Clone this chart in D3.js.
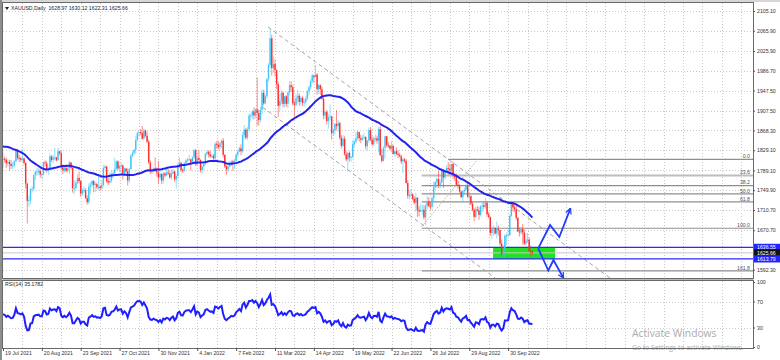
<!DOCTYPE html>
<html><head><meta charset="utf-8">
<script src="https://cdn.jsdelivr.net/npm/d3@7"></script>
<style>body{margin:0;background:#fff}svg{display:block;font-family:"Liberation Sans",Arial,sans-serif}</style>
</head><body><svg id="c" width="780" height="360"></svg>
<script>
// ---- DATA (XAUUSD daily) ----
const priorCloses=[1836,1815,1826,1843,1867,1869,1870,1877,1881,1881,1898,1897,1896,1903,1905,
1903,1908,1871,1891,1898,1893,1888,1899,1877,1866,1859,1811,1773,1764,1783,1779,1778,1776,1782,1779,1761,1770,
1777,1787,1792,1796,1803,1803,1808,1806,1808,1827,1829,1812];
const closes=[
1812,1810,1803,1806,1802, 1798,1799,1807,1828,1814, 1813,1810,1813,1804,1763, 1729,1730,1752,1753,1780,
1786,1787,1788,1781,1781, 1805,1803,1790,1792,1817, 1810,1814,1815,1809,1827, 1823,1795,1789,1794,1788,
1794,1805,1794,1754,1754, 1764,1774,1768,1743,1750, 1750,1734,1726,1757,1761, 1768,1760,1762,1756,1757,
1754,1760,1794,1797,1768, 1765,1769,1782,1784,1792, 1807,1793,1798,1799,1783, 1793,1787,1769,1792,1818,
1824,1830,1849,1863,1865, 1863,1852,1868,1858,1846, 1805,1790,1788,1793,1788, 1785,1775,1782,1769,1783,
1779,1785,1783,1775,1783, 1787,1771,1778,1799,1804, 1790,1789,1803,1809, 1811,1811,1805,1815,1829,
1801,1814,1810,1790,1797, 1802,1822,1826,1821,1817, 1818,1813,1842,1840,1835, 1843,1848,1820,1797,1791,
1797,1801,1807,1805,1808, 1820,1826,1833,1827,1859, 1870,1854,1871,1898,1898, 1906,1898,1910,1903,1889,
1909,1943,1922,1936,1970, 1998,2051,1992,2000,1988, 1960,1917,1927,1943,1921, 1936,1921,1944,1958,1954,
1922,1919,1933,1937,1925, 1933,1923,1925,1931,1946, 1954,1966,1977,1974, 1979,1950,1958,1950,1931,
1898,1905,1887,1894,1896, 1863,1868,1881,1877,1883, 1854,1838,1852,1821,1811, 1824,1815,1816,1841,1846,
1853,1865,1853,1850,1853, 1855,1837,1848,1869,1850, 1841,1852,1853,1848,1871, 1819,1808,1834,1857,1839,
1838,1832,1838,1822,1827, 1822,1820,1817,1807,1811, 1808,1764,1739,1740,1742, 1733,1725,1735,1711,1708,
1709,1711,1696,1719,1727, 1719,1717,1734,1756,1766, 1772,1760,1765,1791,1775, 1789,1794,1792,1789,1802,
1779,1776,1761,1758,1747, 1736,1748,1751,1758,1737, 1738,1723,1711,1697,1712, 1710,1701,1718,1720,1717,
1725,1702,1697,1665,1675, 1675,1664,1673,1671,1644, 1622,1629,1660,1660,1661, 1699,1726,1716,1712,1695,
1668,1666,1673,1666,1644, 1650,1652,1629,1628.97,1625.66];
const highs=[
1825,1816,1815,1812,1810, 1810,1806,1810,1832,1832, 1820,1816,1832,1815,1805, 1764,1739,1754,1758,1781,
1789,1795,1794,1793,1785, 1807,1809,1808,1796,1823, 1819,1820,1834,1816,1834, 1828,1827,1801,1800,1802,
1796,1808,1803,1795,1770, 1769,1781,1787,1770,1754, 1758,1754,1740,1764,1766, 1770,1770,1766,1765,1781,
1761,1770,1800,1800,1797, 1774,1785,1788,1790,1814, 1809,1809,1800,1804,1801, 1795,1794,1793,1794,1821,
1827,1832,1857,1866,1868, 1871,1877,1872,1870,1866, 1850,1809,1793,1795,1815, 1795,1808,1792,1784,1787,
1786,1793,1792,1789,1791, 1792,1789,1781,1804,1815, 1806,1793,1806,1812, 1814,1820,1812,1817,1831,
1832,1816,1829,1811,1800, 1804,1824,1829,1829,1828, 1821,1822,1845,1847,1848, 1845,1851,1853,1821,1801,
1800,1807,1809,1810,1812, 1823,1829,1836,1841,1865, 1879,1873,1875,1902,1902, 1909,1914,1912,1974,1910,
1915,1950,1949,1939,1972, 2002,2070,2058,2015,2009, 1989,1965,1941,1948,1945, 1937,1938,1945,1966,1966,
1959,1927,1940,1949,1942, 1937,1936,1932,1937,1948, 1958,1970,1981,1979, 1998,1982,1961,1960,1955,
1935,1907,1909,1900,1920, 1898,1872,1884,1909,1890, 1886,1859,1859,1857,1827, 1825,1827,1818,1849,1849,
1865,1869,1866,1860,1859, 1863,1857,1850,1874,1875, 1856,1856,1860,1858,1875, 1878,1831,1837,1857,1857,
1846,1840,1847,1839,1831, 1835,1829,1824,1820,1813, 1814,1812,1770,1749,1752, 1744,1738,1745,1736,1718,
1723,1721,1720,1723,1739, 1736,1727,1738,1767,1768, 1775,1788,1772,1794,1792, 1791,1800,1806,1802,1802,
1807,1781,1783,1769,1762, 1749,1750,1755,1763,1765, 1743,1740,1727,1714,1717, 1719,1717,1720,1729,1727,
1735,1728,1707,1697,1678, 1680,1677,1688,1680,1671, 1652,1641,1662,1666,1676, 1702,1729,1726,1724,1722,
1697,1676,1678,1683,1672, 1665,1665,1656,1641,1630.12];
const lows=[
1794,1805,1794,1797,1789, 1792,1792,1795,1806,1810, 1806,1806,1807,1800,1753, 1684,1717,1722,1745,1750,
1770,1778,1780,1775,1772, 1780,1797,1785,1780,1788, 1806,1803,1809,1807,1810, 1819,1790,1782,1785,1785,
1785,1782,1790,1745,1742, 1750,1762,1763,1737,1739, 1745,1733,1721,1722,1743, 1756,1746,1746,1752,1750,
1749,1751,1758,1791,1765, 1760,1763,1765,1774,1780, 1790,1789,1786,1782,1771, 1780,1783,1759,1764,1790,
1815,1820,1822,1847,1856, 1859,1850,1850,1855,1843, 1802,1782,1782,1785,1786, 1777,1762,1771,1762,1763,
1775,1777,1780,1773,1770, 1781,1766,1753,1774,1794, 1786,1784,1786,1802, 1805,1809,1789,1802,1812,
1798,1798,1807,1785,1782, 1790,1800,1818,1815,1814, 1814,1805,1812,1832,1831, 1829,1834,1815,1794,1780,
1785,1795,1798,1788,1792, 1806,1815,1825,1819,1823, 1852,1850,1850,1867,1886, 1891,1890,1893,1878,1878,
1885,1900,1918,1920,1932, 1965,1992,1977,1982,1975, 1950,1895,1907,1920,1914, 1914,1915,1913,1938,1945,
1918,1890,1915,1922,1917, 1918,1917,1915,1920,1928, 1938,1949,1962,1962, 1974,1939,1941,1939,1929,
1891,1891,1880,1872,1889, 1850,1858,1860,1870,1865, 1850,1832,1835,1818,1807, 1787,1807,1806,1813,1835,
1844,1849,1846,1843,1848, 1851,1831,1828,1843,1847, 1838,1837,1846,1842,1825, 1818,1805,1807,1813,1835,
1834,1829,1825,1820,1816, 1819,1813,1815,1802,1784, 1804,1763,1733,1732,1736, 1730,1722,1707,1697,1698,
1707,1701,1692,1681,1712, 1716,1711,1712,1727,1751, 1754,1754,1753,1763,1754, 1771,1785,1781,1781,1786,
1772,1768,1758,1753,1745, 1734,1727,1742,1750,1734, 1721,1719,1708,1688,1694, 1707,1691,1698,1707,1712,
1714,1697,1694,1659,1654, 1660,1662,1654,1660,1639, 1621,1621,1615,1641,1659, 1659,1697,1708,1706,1690,
1667,1658,1661,1642,1641, 1640,1645,1627,1618,1622.31];
const dateLabels=["19 Jul 2021","20 Aug 2021","23 Sep 2021","27 Oct 2021","30 Nov 2021","4 Jan 2022","7 Feb 2022",
"11 Mar 2022","14 Apr 2022","19 May 2022","22 Jun 2022","26 Jul 2022","29 Aug 2022","30 Sep 2022"];
const priceTicks=[2105.10,2065.90,2025.90,1986.70,1947.50,1907.50,1868.30,1829.10,1789.10,1749.90,1710.70,1670.70,1592.30];
const rsiTicks=[100,70,30,0];
const fibLevels=[0,23.6,38.2,50,61.8,100,161.8];
const fibHigh=1811, fibLow=1674.5;
const zoneTop=1636.55, zoneBottom=1613.79, bid=1625.66;
const titleText="XAUUSD,Daily  1628.97 1630.12 1622.31 1625.66";
const rsiPeriod=14, maPeriod=50;

// annotations in (bar index, price) space
const channelLines=[[[163.7,2073.4],[374.9,1575.9]],[[160.4,1914.2],[303.9,1575.9]]];
const fibDiagonal=[[258.6,1677.5],[293.4,1811.7]];
const fibStart=258.6, fibTopStart=274.9;
const zoneX=[302.7,341];
const arrowUp=[[330.6,1634.7],[337.9,1680.9],[343.6,1657.1],[350.5,1714.0]];
const arrowDown=[[330.6,1634.7],[336.8,1590.7],[340.0,1611.5],[346.2,1575.4]];

// ---- derived indicators ----
const all=priorCloses.concat(closes);
const opens=closes.map((c,i)=> i===0?priorCloses[priorCloses.length-1]:closes[i-1]);
const ma=closes.map((c,i)=>{const k=i+priorCloses.length;return d3.mean(all.slice(k-maPeriod+1,k+1));});
const rsiAll=new Array(all.length).fill(null);
{let ag=0,al=0;for(let k=1;k<=rsiPeriod;k++){const d=all[k]-all[k-1];if(d>0)ag+=d;else al-=d;}
ag/=rsiPeriod;al/=rsiPeriod;rsiAll[rsiPeriod]=100-100/(1+ag/al);
for(let k=rsiPeriod+1;k<all.length;k++){const d=all[k]-all[k-1];ag=(ag*(rsiPeriod-1)+Math.max(d,0))/rsiPeriod;al=(al*(rsiPeriod-1)+Math.max(-d,0))/rsiPeriod;rsiAll[k]=al===0?100:100-100/(1+ag/al);}}
const rsi=closes.map((c,i)=>rsiAll[i+priorCloses.length]);

// ---- layout ----
const svg=d3.select("#c");
const L=3,R=753,T=3,B=278,RT=281,RB=348;
const x=d3.scaleLinear().domain([0,463.25]).range([L,R]);
const y=d3.scaleLinear().domain([1575.86,2120.96]).range([B,T]);
const ry=d3.scaleLinear().domain([0,100]).range([347,282]);

svg.append("rect").attr("width",780).attr("height",360).attr("fill","#fff");
svg.append("rect").attr("x",0).attr("y",0).attr("width",780).attr("height",2).attr("fill","#d6d6d6");
svg.append("rect").attr("x",0).attr("y",0).attr("width",2).attr("height",360).attr("fill","#8e8e8e");

const defs=svg.append("defs");
defs.append("clipPath").attr("id","mainClip").append("rect").attr("x",L).attr("y",T).attr("width",R-L).attr("height",B-T);
defs.append("clipPath").attr("id","rsiClip").append("rect").attr("x",L).attr("y",RT).attr("width",R-L).attr("height",RB-RT);
defs.append("marker").attr("id","ah").attr("viewBox","0 0 10 10").attr("refX",9).attr("refY",5)
 .attr("markerWidth",7).attr("markerHeight",7).attr("markerUnits","userSpaceOnUse").attr("orient","auto")
 .append("path").attr("d","M1,1 L9,5 L1,9").attr("fill","none").attr("stroke","#1f3cff").attr("stroke-width",1.8);

// grid
const grid=svg.append("g").attr("stroke","#c9c9c9").attr("stroke-dasharray","1,2").attr("stroke-width",1);
for(let i=12;i<=456;i+=12){const gx=Math.round(x(i))+0.5;
 grid.append("line").attr("x1",gx).attr("x2",gx).attr("y1",T).attr("y2",B);
 grid.append("line").attr("x1",gx).attr("x2",gx).attr("y1",RT).attr("y2",RB);}
priceTicks.forEach(p=>{const gy=Math.round(y(p))+0.5;grid.append("line").attr("x1",L).attr("x2",R).attr("y1",gy).attr("y2",gy);});
[70,30].forEach(v=>{const gy=Math.round(ry(v))+0.5;grid.append("line").attr("x1",L).attr("x2",R).attr("y1",gy).attr("y2",gy);});

const main=svg.append("g").attr("clip-path","url(#mainClip)");

// fib levels
fibLevels.forEach(lv=>{const p=fibHigh-(fibHigh-fibLow)*lv/100;const gy=y(p);
 const x0=lv===0?x(fibTopStart):x(fibStart);
 main.append("line").attr("x1",x0).attr("x2",R).attr("y1",gy).attr("y2",gy)
  .attr("stroke",lv===23.6?"#bdbdbd":"#8f8f8f").attr("stroke-width",lv===23.6?2:1.2);
 svg.append("text").attr("x",R-3).attr("y",gy-1.2).attr("text-anchor","end").attr("font-size",5.2).attr("fill","#555").text(lv.toFixed(1));
});
main.append("line").attr("x1",x(fibDiagonal[0][0])).attr("y1",y(fibDiagonal[0][1])).attr("x2",x(fibDiagonal[1][0])).attr("y2",y(fibDiagonal[1][1]))
 .attr("stroke","#b0b0b0").attr("stroke-dasharray","1.5,1.5").attr("stroke-width",1);

// channel lines
channelLines.forEach(l=>main.append("line").attr("x1",x(l[0][0])).attr("y1",y(l[0][1])).attr("x2",x(l[1][0])).attr("y2",y(l[1][1]))
 .attr("stroke","#a4a4a4").attr("stroke-dasharray","4,3").attr("stroke-width",1));

// zone
main.append("rect").attr("x",x(zoneX[0])).attr("width",x(zoneX[1])-x(zoneX[0])).attr("y",y(zoneTop)).attr("height",y(zoneBottom)-y(zoneTop)).attr("fill","#22e322");
main.append("line").attr("x1",L).attr("x2",R).attr("y1",y(bid)).attr("y2",y(bid)).attr("stroke","#c8c8c8").attr("stroke-width",1);
[zoneTop,zoneBottom].forEach(p=>main.append("line").attr("x1",L).attr("x2",R).attr("y1",y(p)).attr("y2",y(p)).attr("stroke","#2a2aff").attr("stroke-width",1.3));

// candles
const upC="#3ec3f7", dnC="#ff2d2d";
const cg=main.append("g");
closes.forEach((c,i)=>{const o=opens[i];const col=c>=o?upC:dnC;const cx=x(i);
 const h=Math.max(highs[i],o,c), l=Math.min(lows[i],o,c);
 cg.append("line").attr("x1",cx).attr("x2",cx).attr("y1",y(h)).attr("y2",y(l)).attr("stroke",col).attr("stroke-opacity",0.55).attr("stroke-width",1);
 const yt=y(Math.max(o,c)), yb=y(Math.min(o,c));
 cg.append("rect").attr("x",cx-0.7).attr("width",1.4).attr("y",yt).attr("height",Math.max(1,yb-yt)).attr("fill",col);
});

// moving average
main.append("path").datum(ma).attr("fill","none").attr("stroke","#2222ee").attr("stroke-width",2)
 .attr("d",d3.line().x((d,i)=>x(i)).y(d=>y(d)));

// arrows
const al=d3.line().x(d=>x(d[0])).y(d=>y(d[1]));
[arrowUp,arrowDown].forEach(a=>main.append("path").datum(a).attr("d",al).attr("fill","none").attr("stroke","#1f3cff").attr("stroke-width",1.8).attr("marker-end","url(#ah)"));

// RSI
svg.append("g").attr("clip-path","url(#rsiClip)").append("path").datum(rsi).attr("fill","none").attr("stroke","#1f1fff").attr("stroke-width",2)
 .attr("d",d3.line().x((d,i)=>x(i)).y(d=>ry(d)));

// watermark
svg.append("text").attr("x",632).attr("y",337).attr("font-family","'Open Sans','Liberation Sans',sans-serif").attr("font-size",10.3).attr("fill","#aaaaaa").text("Activate Windows");
svg.append("text").attr("x",632).attr("y",350).attr("font-family","'Open Sans','Liberation Sans',sans-serif").attr("font-size",6.8).attr("fill","#aaaaaa").text("Go to Settings to activate Windows.");

// frames
svg.append("rect").attr("x",L-0.5).attr("y",T-0.5).attr("width",R-L+1).attr("height",B-T+1).attr("fill","none").attr("stroke","#6a6a6a");
svg.append("rect").attr("x",L-0.5).attr("y",B+1).attr("width",R-L+1).attr("height",RT-B-1.5).attr("fill","#b8b8b8");
svg.append("rect").attr("x",L-0.5).attr("y",RT-0.5).attr("width",R-L+1).attr("height",RB-RT+1).attr("fill","none").attr("stroke","#6a6a6a");

// axes
const pa=svg.append("g").attr("transform",`translate(${R},0)`).call(d3.axisRight(y).tickValues(priceTicks).tickSize(2).tickFormat(d3.format(".2f")));
const ra=svg.append("g").attr("transform",`translate(${R},0)`).call(d3.axisRight(ry).tickValues(rsiTicks).tickSize(2).tickFormat(d3.format("d")));
const da=svg.append("g").attr("transform",`translate(0,${RB})`).call(d3.axisBottom(x).tickValues(dateLabels.map((d,k)=>k*24)).tickSize(3).tickFormat((d,k)=>dateLabels[k]));
[pa,ra,da].forEach(a=>{a.select(".domain").remove();a.selectAll("line").attr("stroke","#555");a.selectAll("text").attr("font-size",5.2).attr("fill","#333").attr("font-family","'Liberation Sans',Arial,sans-serif");});
pa.selectAll("text").attr("x",4);ra.selectAll("text").attr("x",4);
da.selectAll("text").attr("text-anchor","start").attr("dx",1.5).attr("y",3).attr("dy","0.71em");

// highlighted price labels
[[zoneTop,"#2424ff"],[bid,"#111"],[zoneBottom,"#2424ff"]].forEach(([p,col])=>{const cy=y(p);
 svg.append("rect").attr("x",R+1).attr("y",cy-3.6).attr("width",26).attr("height",7.2).attr("fill",col);
 svg.append("text").attr("x",R+4).attr("y",cy).attr("dy","0.35em").attr("font-size",5.2).attr("fill","#fff").text(p.toFixed(2));});

// titles
svg.append("path").attr("d",`M5,7 L9,7 L7,10 Z`).attr("fill","#222");
svg.append("text").attr("x",11).attr("y",10).attr("font-size",5.2).attr("fill","#222").attr("xml:space","preserve").text(titleText);
svg.append("text").attr("x",5).attr("y",286).attr("font-size",5.2).attr("fill","#222").text("RSI(14) 35.1782");
</script></body></html>
